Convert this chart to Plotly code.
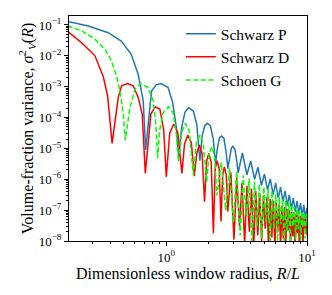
import plotly.graph_objects as go

# ---- Data (R/L, variance) ----
p_r = [0.200, 0.280, 0.388, 0.480, 0.565, 0.633, 0.687, 0.715, 0.787, 0.850,
       0.917, 1.030, 1.110, 1.180, 1.229, 1.290, 1.360, 1.448, 1.560, 1.650,
       1.736, 1.800, 1.880, 1.961, 2.060, 2.160, 2.239, 2.310, 2.390, 2.469,
       2.570, 2.660, 2.741, 2.820, 2.900, 2.974, 3.080, 3.170, 3.243, 3.478,
       3.745, 3.981, 4.246, 4.483, 4.747, 4.985, 5.248, 5.486, 5.749, 5.987,
       6.250, 6.488, 6.750, 6.989, 7.251, 7.490, 7.752, 7.990, 8.252, 8.490,
       8.753, 8.991, 9.253, 9.491, 9.754, 10.0]
p_v = [0.13, 0.093, 0.056, 0.030, 0.0112, 2.5e-3, 3.5e-4, 9e-6, 7.2e-4, 1.15e-3,
       1.26e-3, 9.5e-4, 3.2e-4, 5e-5, 5e-6, 5e-5, 1.5e-4, 2.1e-4, 1.6e-4, 6e-5,
       4e-6, 2.5e-5, 5.5e-5, 6.5e-5, 5.5e-5, 2.0e-5, 3.2e-6, 1.0e-5, 2.2e-5, 2.5e-5,
       2.1e-5, 8e-6, 2.2e-6, 5e-6, 1.0e-5, 1.17e-5, 9e-6, 4e-6, 1.6e-6, 7.1e-6,
       1.4e-6, 3.9e-6, 1.0e-6, 2.45e-6, 6.3e-7, 1.48e-6, 4.5e-7, 1.02e-6, 3.2e-7, 7.6e-7,
       2.5e-7, 5.6e-7, 1.9e-7, 4.2e-7, 1.4e-7, 3.1e-7, 1.1e-7, 2.45e-7, 9e-8, 1.95e-7,
       7.6e-8, 1.7e-7, 6.3e-8, 1.48e-7, 5.4e-8, 1.2e-7]

d_r = [0.200, 0.258, 0.312, 0.357, 0.384, 0.403, 0.413, 0.457, 0.482, 0.531,
       0.583, 0.633, 0.676, 0.711, 0.779, 0.836, 0.902, 0.960, 1.002, 1.060,
       1.133, 1.210, 1.293, 1.350, 1.426, 1.510, 1.583, 1.650, 1.718, 1.800,
       1.872, 1.940, 2.009, 2.090, 2.162, 2.230, 2.299, 2.380, 2.451, 2.520,
       2.589, 2.670, 2.740, 2.879, 3.029, 3.168, 3.318, 3.457, 3.607, 3.746,
       3.896, 4.035, 4.185, 4.323, 4.473, 4.612, 4.762, 4.901, 5.051, 5.190,
       5.339, 5.478, 5.628, 5.767, 5.917, 6.056, 6.206, 6.345, 6.495, 6.633,
       6.783, 6.922, 7.072, 7.211, 7.361, 7.500, 7.650, 7.788, 7.938, 8.077,
       8.227, 8.366, 8.516, 8.655, 8.805, 8.943, 9.093, 9.232, 9.382, 9.521,
       9.671, 9.810, 10.0]
d_v = [0.062, 0.0237, 0.0100, 2.2e-3, 5e-4, 6e-5, 1.45e-5, 4.5e-4, 1.07e-3, 1.26e-3,
       1.07e-3, 4.5e-4, 1.3e-4, 1.55e-6, 1.3e-4, 2.24e-4, 1.86e-4, 4e-5, 1.2e-6, 3.2e-5,
       6.2e-5, 3.2e-5, 1.55e-6, 1.4e-5, 2.7e-5, 1.5e-5, 1.26e-6, 7e-6, 1.3e-5, 7e-6,
       1.86e-7, 4e-6, 6.9e-6, 3.5e-6, 1.8e-8, 2.2e-6, 4e-6, 2.2e-6, 4.3e-8, 1.4e-6,
       2.5e-6, 1.4e-6, 9e-8, 1.66e-6, 1.1e-8, 1.12e-6, 3e-8, 7.9e-7, 8e-9, 6.2e-7,
       2e-8, 5e-7, 6e-9, 4.2e-7, 1.5e-8, 3.6e-7, 9e-9, 3.0e-7, 2.5e-8, 2.6e-7,
       5e-9, 2.3e-7, 1.3e-8, 2.0e-7, 7e-9, 1.75e-7, 2e-8, 1.55e-7, 6e-9, 1.4e-7,
       1.2e-8, 1.25e-7, 8e-9, 1.1e-7, 2.2e-8, 1.0e-7, 7e-9, 9e-8, 1.4e-8, 8.3e-8,
       6e-9, 7.6e-8, 1.8e-8, 7e-8, 9e-9, 6.5e-8, 1.6e-8, 6e-8, 7e-9, 5.6e-8,
       2.4e-8, 5.2e-8, 1.5e-8]

g_r = [0.200, 0.251, 0.312, 0.367, 0.409, 0.444, 0.470, 0.496, 0.512, 0.553,
       0.600, 0.660, 0.745, 0.809, 0.845, 0.870, 0.900, 0.950, 1.040, 1.120,
       1.180, 1.225, 1.290, 1.370, 1.450, 1.560, 1.640, 1.740, 1.830, 1.940,
       2.020, 2.110, 2.200, 2.292, 2.460, 2.650, 2.815, 3.001, 3.170, 3.355,
       3.525, 3.708, 3.878, 4.062, 4.232, 4.415, 4.585, 4.769, 4.939, 5.122,
       5.292, 5.476, 5.646, 5.829, 6.000, 6.183, 6.353, 6.536, 6.707, 6.890,
       7.060, 7.243, 7.414, 7.597, 7.767, 7.950, 8.121, 8.304, 8.474, 8.657,
       8.828, 9.011, 9.181, 9.364, 9.535, 9.718, 9.888, 10.0]
g_v = [0.093, 0.065, 0.035, 0.0162, 6.9e-3, 2.2e-3, 7.2e-4, 1.3e-4, 1.86e-5, 2.1e-4,
       8.3e-4, 1.26e-3, 9.3e-4, 3.5e-4, 6e-5, 4.8e-6, 4e-5, 1.4e-4, 2.24e-4, 1.4e-4,
       3e-5, 3.7e-6, 3.5e-5, 6.5e-5, 4e-5, 1.4e-6, 1.6e-5, 2.7e-5, 1.5e-5, 8.3e-7,
       7e-6, 1.12e-5, 6e-6, 3e-7, 3.5e-6, 1e-7, 2.3e-6, 4e-8, 1.8e-6, 1.5e-8,
       1.35e-6, 6e-8, 1.05e-6, 8e-9, 8.5e-7, 3e-8, 7e-7, 1.2e-8, 5.6e-7, 4e-8,
       4.8e-7, 7e-9, 4.1e-7, 2.5e-8, 3.2e-7, 1e-8, 2.75e-7, 3.5e-8, 2.35e-7, 6e-9,
       2.0e-7, 2e-8, 1.74e-7, 9e-9, 1.48e-7, 3e-8, 1.26e-7, 1.1e-8, 1.12e-7, 2.5e-8,
       1.0e-7, 8e-9, 9.1e-8, 2.8e-8, 8.3e-8, 1.2e-8, 7.6e-8, 4e-8]

series_names = ["Schwarz P", "Schwarz D", "Schoen G"]

x_tickvals = [1, 10]
x_ticktext = ["10<sup>0</sup>", "10<sup>1</sup>"]
y_tickvals = [1e-8, 1e-7, 1e-6, 1e-5, 1e-4, 1e-3, 1e-2, 1e-1]
y_ticktext = ["10<sup>\u22128</sup>", "10<sup>\u22127</sup>", "10<sup>\u22126</sup>",
              "10<sup>\u22125</sup>", "10<sup>\u22124</sup>", "10<sup>\u22123</sup>",
              "10<sup>\u22122</sup>", "10<sup>\u22121</sup>"]

FONT = "Liberation Serif, DejaVu Serif, serif"

fig = go.Figure()
fig.add_trace(go.Scatter(x=p_r, y=p_v, mode="lines", name=series_names[0],
                         line=dict(color="#1f77b4", width=1.5)))
fig.add_trace(go.Scatter(x=d_r, y=d_v, mode="lines", name=series_names[1],
                         line=dict(color="#ff0000", width=1.5)))
fig.add_trace(go.Scatter(x=g_r, y=g_v, mode="lines", name=series_names[2],
                         line=dict(color="#00ff00", width=1.5, dash="5px,2.5px")))

axis_common = dict(
    showgrid=False, zeroline=False, showline=True, linecolor="black", linewidth=1,
    mirror=True, ticks="outside", ticklen=4, tickwidth=1, tickcolor="black",
    automargin=False,
    tickfont=dict(family=FONT, size=13, color="black"),
    minor=dict(ticks="outside", ticklen=2, tickwidth=1, tickcolor="black",
               dtick="D1", showgrid=False),
)

fig.update_xaxes(type="log", range=[-0.69, 1.0], tickvals=x_tickvals, ticktext=x_ticktext,
                 title=dict(text="Dimensionless window radius, <i>R</i>/<i>L</i>",
                            font=dict(family=FONT, size=16, color="black"), standoff=3),
                 **axis_common)
fig.update_yaxes(type="log", range=[-8.0, -0.71], tickvals=y_tickvals, ticktext=y_ticktext,
                 title=dict(text="Volume-fraction variance, <i>\u03c3</i><sup>2</sup><sub><i>V</i></sub>(<i>R</i>)",
                            font=dict(family=FONT, size=16, color="black"), standoff=1),
                 **axis_common)

# page body adds an 8px offset; sizes compensate so the plot area lands at x 69-307, y 16-241
fig.update_layout(
    width=316, height=279,
    margin=dict(l=61, r=17, t=8, b=46),
    paper_bgcolor="white", plot_bgcolor="white",
    font=dict(family=FONT, size=13, color="black"),
    showlegend=True,
    legend=dict(x=0.47, y=0.995, xanchor="left", yanchor="top",
                bgcolor="rgba(0,0,0,0)", borderwidth=0,
                font=dict(family=FONT, size=15.5, color="black"),
                tracegroupgap=0),
)

fig.write_html("out.html")
